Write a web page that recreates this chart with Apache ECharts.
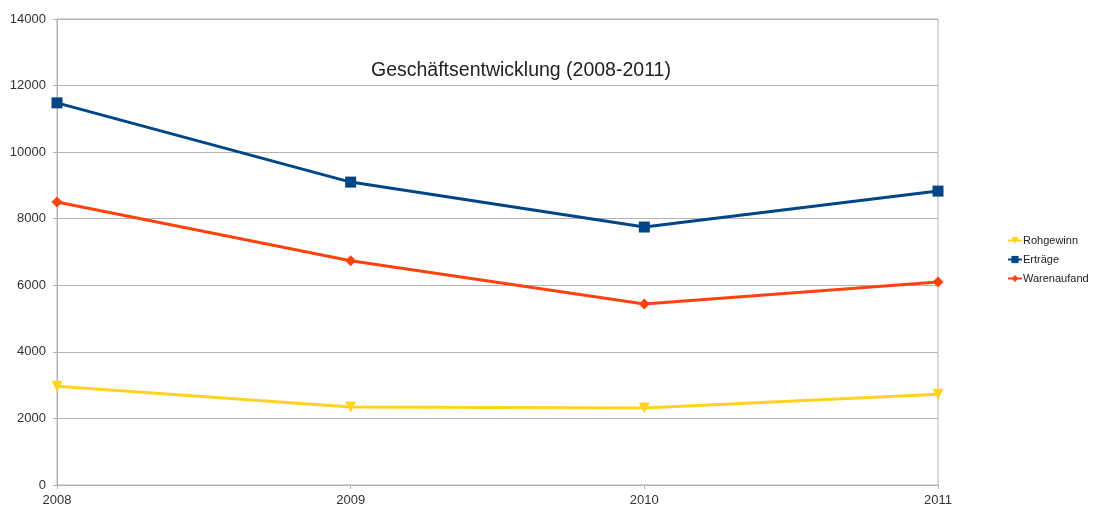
<!DOCTYPE html>
<html>
<head>
<meta charset="utf-8">
<script src="https://cdn.jsdelivr.net/npm/echarts@6/dist/echarts.min.js"></script>
<style>
  html, body { margin: 0; padding: 0; background: #fff; }
  #chart { width: 1106px; height: 513px; }
</style>
</head>
<body>
<div id="chart"></div>
<script>
// Jahre und Werte
const years = ["2008", "2009", "2010", "2011"];
const rohgewinn = [2970, 2340, 2310, 2730];
const ertraege = [11480, 9100, 7750, 8830];
const warenaufwand = [8500, 6740, 5440, 6100];

const axisColor = "#b3b3b3";
const labelColor = "#333";
const font = "Liberation Sans, Arial, sans-serif";

const chart = echarts.init(document.getElementById("chart"));

function line(name, data, color, symbol, size) {
  return {
    name: name,
    type: "line",
    data: data,
    symbol: symbol,
    symbolSize: size,
    lineStyle: { width: 3, color: color },
    itemStyle: { color: color },
    z: 3
  };
}

const rohSeries = line("Rohgewinn", rohgewinn, "#ffd320", "triangle", 11);
rohSeries.symbolRotate = 180; // Dreieck nach unten

chart.setOption({
  animation: false,
  title: {
    text: "Geschäftsentwicklung (2008-2011)",
    left: 366,
    top: 56,
    textStyle: { fontFamily: font, fontSize: 19.5, fontWeight: "normal", color: "#222" }
  },
  legend: {
    orient: "vertical",
    left: 1002,
    top: 230,
    itemGap: 8,
    itemWidth: 14,
    itemHeight: 9,
    textStyle: { fontFamily: font, fontSize: 11, color: "#222", padding: [0, 0, 0, -4] },
    data: ["Rohgewinn", "Erträge", "Warenaufand"]
  },
  grid: {
    left: 57,
    right: 168,
    top: 19,
    bottom: 28,
    show: true,
    borderColor: axisColor,
    borderWidth: 1
  },
  xAxis: {
    type: "category",
    data: years,
    boundaryGap: false,
    axisLine: { lineStyle: { color: axisColor } },
    axisTick: { show: true, length: 4, lineStyle: { color: axisColor } },
    axisLabel: { fontFamily: font, fontSize: 13, color: labelColor, margin: 9 },
    splitLine: { show: false }
  },
  yAxis: {
    type: "value",
    min: 0,
    max: 14000,
    interval: 2000,
    axisLine: { show: true, lineStyle: { color: axisColor } },
    axisTick: { show: true, length: 4, lineStyle: { color: axisColor } },
    axisLabel: {
      fontFamily: font,
      fontSize: 13,
      color: labelColor,
      margin: 11,
      formatter: v => String(v)
    },
    splitLine: { show: true, lineStyle: { color: axisColor } }
  },
  series: [
    rohSeries,
    line("Erträge", ertraege, "#004586", "rect", 11),
    line("Warenaufand", warenaufwand, "#ff420e", "diamond", 11)
  ]
});
</script>
</body>
</html>
